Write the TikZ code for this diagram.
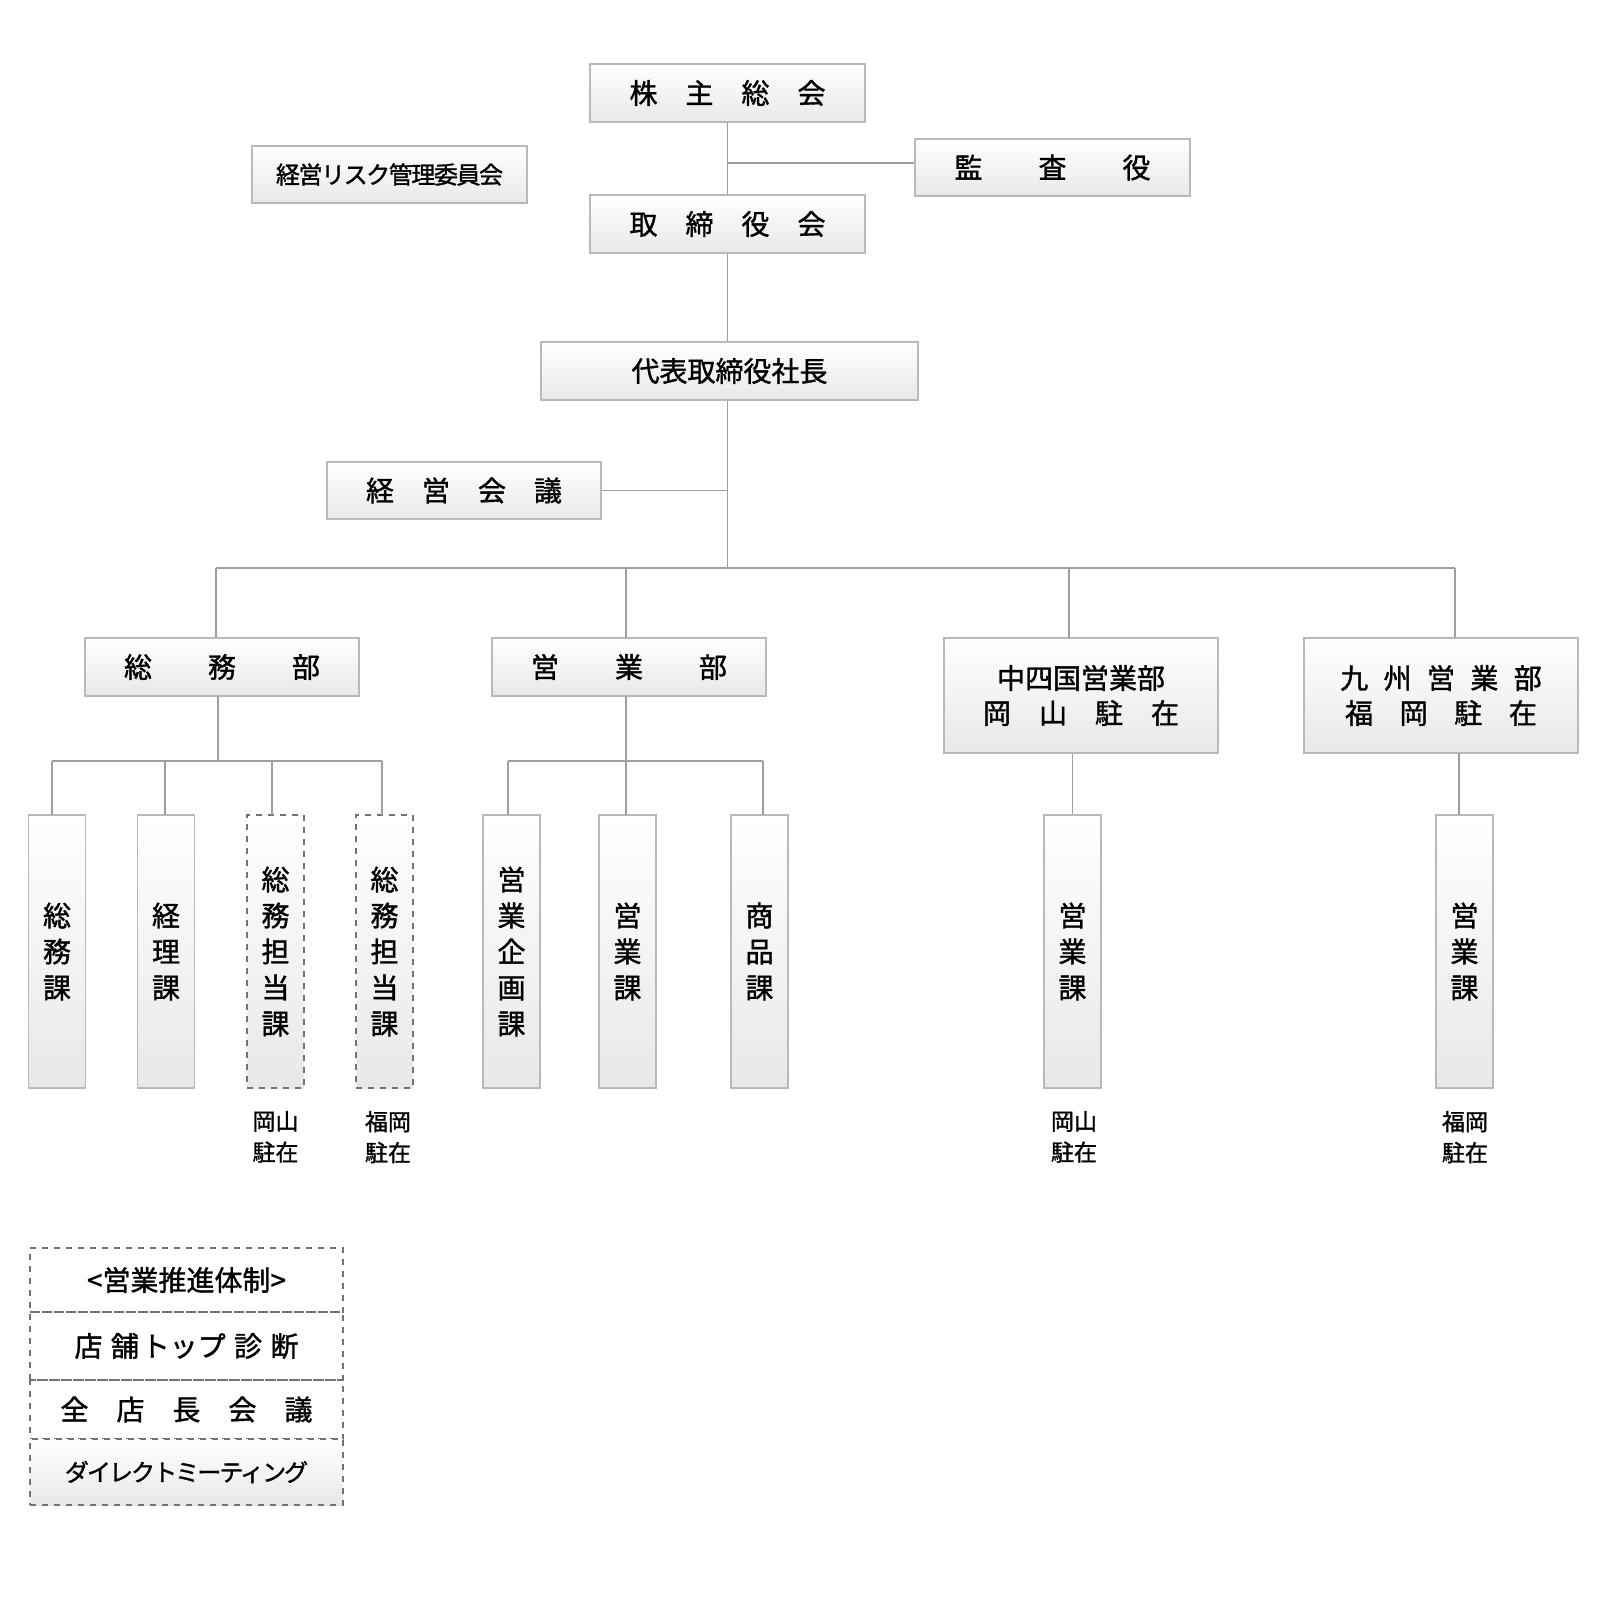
\documentclass[tikz,border=0pt]{standalone}
\usepackage{fontspec}
\setmainfont{Noto Sans CJK JP}[FakeBold=1.3]
\begin{document}
\begin{tikzpicture}[x=0.5pt,y=-0.5pt,
 bx/.style={draw=gray!55,line width=0.6pt,top color=white,bottom color=gray!18,inner sep=0pt,font=\fontsize{14}{17}\selectfont},
 vb/.style={bx,minimum width=28.5pt,minimum height=136.5pt,align=center,font=\fontsize{14}{18}\selectfont},
 dsh/.style={dashed,draw=gray!90!black,line width=0.6pt},
 ln/.style={draw=gray!75,line width=0.6pt},
 lab/.style={font=\fontsize{11.5}{15.5}\selectfont,align=center,anchor=north}]
\useasboundingbox (0,0) rectangle (1603,1624);
\node[bx,minimum width=137.5pt,minimum height=29pt] (kabu) at (727.5,93) {株\quad 主\quad 総\quad 会};
\node[bx,minimum width=137.5pt,minimum height=28.5pt] (kansa) at (1052.5,167.5) {監\qquad 査\qquad 役};
\node[bx,minimum width=137.5pt,minimum height=28.5pt,font=\fontsize{12}{14}\selectfont] (risk) at (389.5,174.5) {\addfontfeature{LetterSpace=-6}経営リスク管理委員会};
\node[bx,minimum width=137.5pt,minimum height=29pt] (tori) at (727.5,224) {取\quad 締\quad 役\quad 会};
\node[bx,minimum width=188.5pt,minimum height=29pt] (pres) at (729.5,371) {代表取締役社長};
\node[bx,minimum width=137pt,minimum height=28.5pt] (kaigi) at (464,490.5) {経\quad 営\quad 会\quad 議};
\node[bx,minimum width=137pt,minimum height=29pt] (somu) at (222,667) {総\qquad 務\qquad 部};
\node[bx,minimum width=137pt,minimum height=29pt] (eigyo) at (629,667) {営\qquad 業\qquad 部};
\node[bx,minimum width=137pt,minimum height=57.5pt,align=center,font=\fontsize{14}{17.5}\selectfont] (chu) at (1081,695.5) {中四国営業部\\岡\quad 山\quad 駐\quad 在};
\node[bx,minimum width=137pt,minimum height=57.5pt,align=center,font=\fontsize{14}{17.5}\selectfont] (kyu) at (1441,695.5) {九\hspace{0.55em}州\hspace{0.55em}営\hspace{0.55em}業\hspace{0.55em}部\\福\hspace{0.95em}岡\hspace{0.95em}駐\hspace{0.95em}在};
% connectors
\coordinate (j1) at (727.5,163);
\draw[ln] (kabu.south) -- (tori.north);
\draw[ln] (j1) -- (j1 -| kansa.west);
\draw[ln] (tori.south) -- (pres.north -| tori.south);
\coordinate (hub) at (727.5,568);
\draw[ln] (pres.south -| hub) -- (hub);
\draw[ln] (kaigi.east) -- (kaigi.east -| hub);
\coordinate (hl) at (216,568); \coordinate (hr) at (1455,568);
\draw[ln] (hl) -- (hr);
\draw[ln] (hl) -- (hl |- somu.north);
\draw[ln] (626,568) -- (626,638);
\draw[ln] (1069,568) -- (1069,638);
\draw[ln] (hr) -- (hr |- kyu.north);
% vertical boxes
\node[vb] (s1) at (57,951.5) {総\\務\\課};
\node[vb] (s2) at (166,951.5) {経\\理\\課};
\node[vb,dsh] (s3) at (275.5,951.5) {総\\務\\担\\当\\課};
\node[vb,dsh] (s4) at (384.5,951.5) {総\\務\\担\\当\\課};
\node[vb] (e1) at (511.5,951.5) {営\\業\\企\\画\\課};
\node[vb] (e2) at (627.5,951.5) {営\\業\\課};
\node[vb] (e3) at (759.5,951.5) {商\\品\\課};
\node[vb] (c1) at (1072.5,951.5) {営\\業\\課};
\node[vb] (k1) at (1464.5,951.5) {営\\業\\課};
\coordinate (sj) at (218,761);
\draw[ln] (218,696) -- (sj);
\draw[ln] (52,761) -- (382,761);
\draw[ln] (52,761) -- (52,815);
\draw[ln] (165,761) -- (165,815);
\draw[ln] (272,761) -- (272,815);
\draw[ln] (382,761) -- (382,815);
\draw[ln] (626,696) -- (626,815);
\draw[ln] (508,761) -- (763,761);
\draw[ln] (508,761) -- (508,815);
\draw[ln] (763,761) -- (763,815);
\draw[ln] (c1.north |- chu.south) -- (c1.north);
\draw[ln] (1459,753) -- (1459,815);
% labels
\node[lab] (l1) at (275.5,1104) {岡山\\駐在};
\node[lab] (l2) at (388,1104) {福岡\\駐在};
\node[lab] (l3) at (1074,1104) {岡山\\駐在};
\node[lab] (l4) at (1465,1104) {福岡\\駐在};
% legend
\node[dsh,draw,minimum width=156.5pt,minimum height=32pt,inner sep=0pt,font=\fontsize{14}{17}\selectfont] (g1) at (186.5,1280) {<営業推進体制>};
\node[dsh,draw,minimum width=156.5pt,minimum height=34pt,inner sep=0pt,font=\fontsize{14}{17}\selectfont] (g2) at (186.5,1346) {店\hspace{0.3em}舗\hspace{0.1em}トップ\hspace{0.3em}診\hspace{0.3em}断};
\node[dsh,draw,minimum width=156.5pt,minimum height=29.5pt,inner sep=0pt,font=\fontsize{14}{17}\selectfont] (g3) at (186.5,1409.5) {全\quad 店\quad 長\quad 会\quad 議};
\node[dsh,draw,top color=white,bottom color=gray!18,minimum width=156.5pt,minimum height=33pt,inner sep=0pt,font=\fontsize{12}{14}\selectfont] (g4) at (186.5,1472) {\addfontfeature{LetterSpace=-8}ダイレクトミーティング};
\end{tikzpicture}
\end{document}
